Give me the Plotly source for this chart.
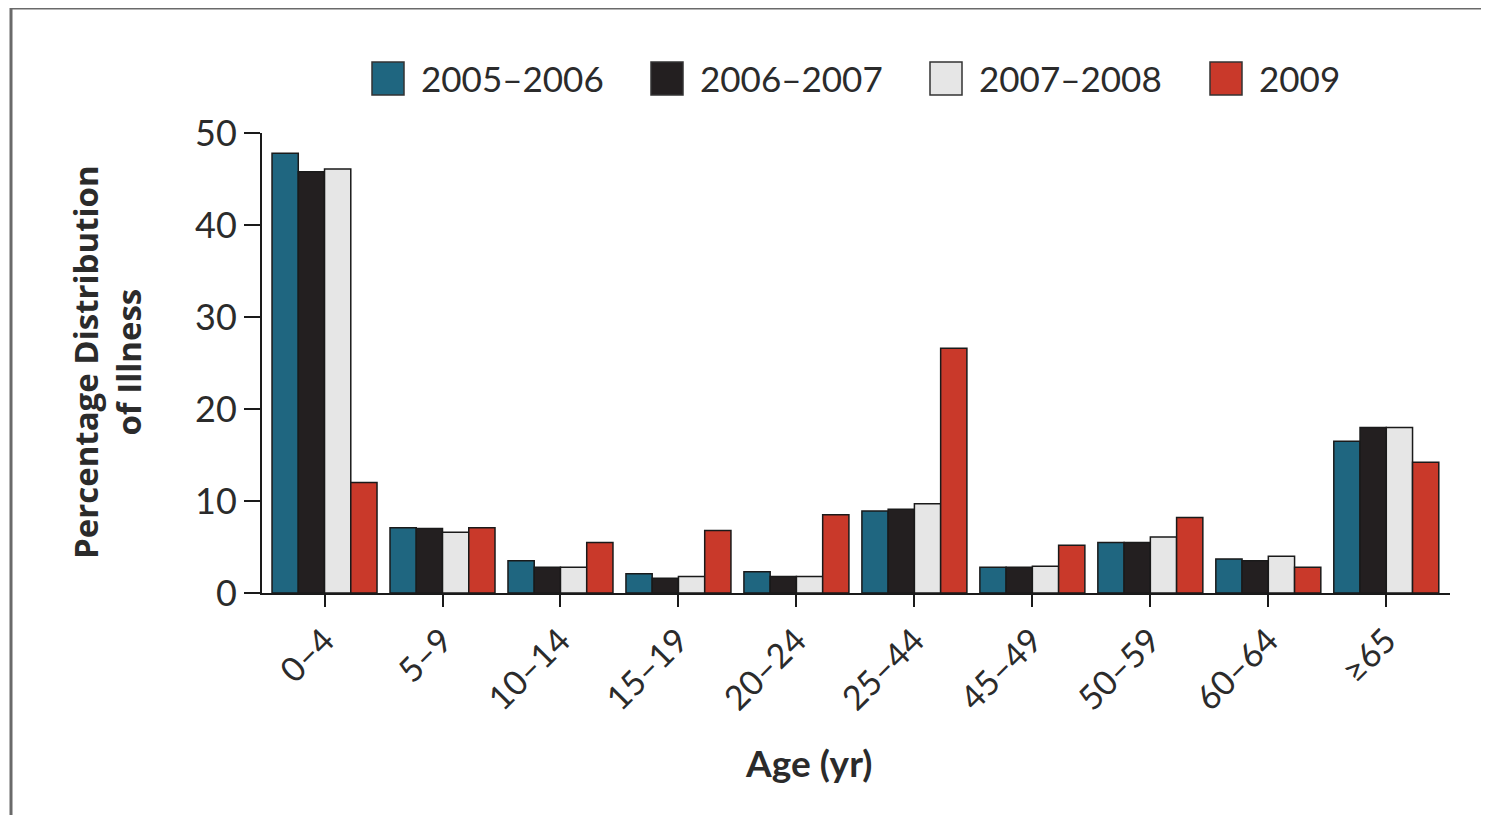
import plotly.graph_objects as go

categories = ["0–4", "5–9", "10–14", "15–19", "20–24", "25–44", "45–49", "50–59", "60–64", "≥65"]
series_names = ["2005–2006", "2006–2007", "2007–2008", "2009"]
v_2005_2006 = [47.8, 7.1, 3.5, 2.1, 2.3, 8.9, 2.8, 5.5, 3.7, 16.5]
v_2006_2007 = [45.8, 7.0, 2.8, 1.6, 1.8, 9.1, 2.8, 5.5, 3.5, 18.0]
v_2007_2008 = [46.1, 6.6, 2.8, 1.8, 1.8, 9.7, 2.9, 6.1, 4.0, 18.0]
v_2009 = [12.0, 7.1, 5.5, 6.8, 8.5, 26.6, 5.2, 8.2, 2.8, 14.2]
y_ticks = [0, 10, 20, 30, 40, 50]

colors = ["#1f6680", "#231f20", "#e6e6e6", "#c9392a"]
values = [v_2005_2006, v_2006_2007, v_2007_2008, v_2009]

FONT = "Lato"
TXT = "#2b2b2b"

# page has an 8px body margin; plot area in page px: x 262..1450, y 133..593
W, H = 1473, 807
PX0, PX1, PY0, PY1 = 262, 1450, 133, 593
PW, PH = PX1 - PX0, PY1 - PY0


def px(xp):
    return (xp - PX0) / PW


def py(yp):
    return (PY1 - yp) / PH


fig = go.Figure()
for name, vals, col in zip(series_names, values, colors):
    fig.add_trace(go.Bar(
        x=categories, y=vals, name=name,
        marker=dict(color=col, line=dict(color="#1a1a1a", width=1.5)),
    ))

# custom legend (large square swatches like the original)
legend_left = [372, 651, 930, 1210]
shapes = []
annotations = []
for name, col, lx in zip(series_names, colors, legend_left):
    shapes.append(dict(type="rect", xref="paper", yref="paper",
                       x0=px(lx), x1=px(lx + 32), y0=py(95), y1=py(62),
                       fillcolor=col, line=dict(color="#333333", width=1.5)))
    annotations.append(dict(text=name, xref="paper", yref="paper", x=px(lx + 47), y=py(78),
                            xanchor="left", yanchor="middle", showarrow=False,
                            font=dict(family=FONT, size=35, color=TXT)))

annotations += [
    dict(text="<b>Age (yr)</b>", xref="paper", yref="paper", x=px(808),
         y=py(762), xanchor="center", yanchor="middle", showarrow=False,
         font=dict(family=FONT, size=37, color=TXT)),
    dict(text="<b>Percentage Distribution<br>of Illness</b>", xref="paper", yref="paper",
         x=px(107), y=py(362), xanchor="center", yanchor="middle",
         showarrow=False, textangle=-90,
         font=dict(family="Open Sans", size=33, color=TXT)),
]

# frame: only top and left edges visible
frame = dict(color="#6a6a6a", width=3)
shapes.append(dict(type="line", xref="paper", yref="paper",
                   x0=px(11), x1=px(1481), y0=py(8), y1=py(8), line=frame, layer="below"))
shapes.append(dict(type="line", xref="paper", yref="paper",
                   x0=px(11), x1=px(11), y0=py(8), y1=py(815), line=frame, layer="below"))

fig.update_layout(
    width=W, height=H,
    margin=dict(l=PX0 - 8, r=W - (PX1 - 8), t=PY0 - 8, b=H - (PY1 - 8)),
    paper_bgcolor="white", plot_bgcolor="white",
    barmode="group", bargap=0.11, bargroupgap=0,
    font=dict(family=FONT, color=TXT, size=34),
    showlegend=False,
    xaxis=dict(range=[-0.53, 9.54], showline=True, linecolor="#1a1a1a", linewidth=2,
               ticks="outside", ticklen=12, tickwidth=1.5, tickcolor="#1a1a1a",
               tickangle=-45, tickfont=dict(family=FONT, size=34, color=TXT),
               showgrid=False, zeroline=False, fixedrange=True),
    yaxis=dict(range=[0, 50], tickvals=y_ticks, showline=True, linecolor="#1a1a1a", linewidth=2,
               ticks="outside", ticklen=16, tickwidth=1.5, tickcolor="#1a1a1a",
               tickfont=dict(family=FONT, size=36, color=TXT),
               showgrid=False, zeroline=False, fixedrange=True),
    annotations=annotations,
    shapes=shapes,
)

fig.write_html("out.html")
